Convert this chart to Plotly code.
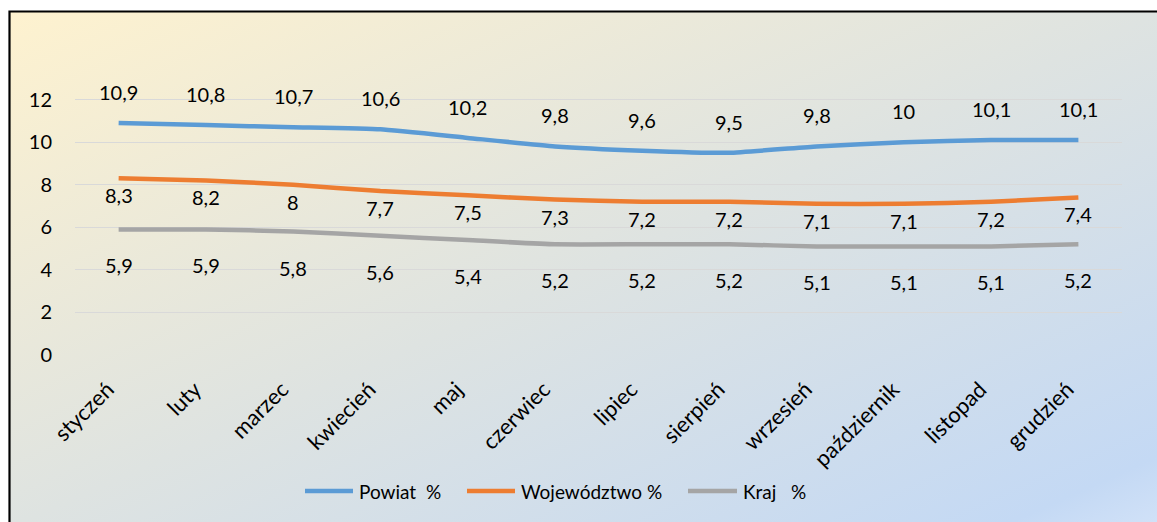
import base64
import plotly.graph_objects as go

months = ["styczeń", "luty", "marzec", "kwiecień", "maj", "czerwiec", "lipiec",
          "sierpień", "wrzesień", "październik", "listopad", "grudzień"]
powiat = [10.9, 10.8, 10.7, 10.6, 10.2, 9.8, 9.6, 9.5, 9.8, 10, 10.1, 10.1]
wojewodztwo = [8.3, 8.2, 8, 7.7, 7.5, 7.3, 7.2, 7.2, 7.1, 7.1, 7.2, 7.4]
kraj = [5.9, 5.9, 5.8, 5.6, 5.4, 5.2, 5.2, 5.2, 5.1, 5.1, 5.1, 5.2]
y_ticks = [0, 2, 4, 6, 8, 10, 12]

series = [
    ("Powiat\u00a0\u00a0%", powiat, "#5B9BD5", 31),
    ("Województwo\u00a0%", wojewodztwo, "#ED7D31", -17),
    ("Kraj\u00a0\u00a0\u00a0%", kraj, "#A5A5A5", -36),
]

FONT = "Lato, 'Open Sans', sans-serif"

def fmt(v):
    return ("%g" % v).replace(".", ",")

# plot area geometry (pixels)
W, H = 1157, 522
ML, MR, MT, MB = 75, 35, 57, 167
PW = W - ML - MR
PH = H - MT - MB

def px_x(p):
    return (p - ML) / PW

def px_y(p):
    return (H - MB - p) / PH

fig = go.Figure()
annotations = []
shapes = []
legend_pos = [(305, 353, 357), (467, 515, 519), (688, 737, 741)]
for (name, vals, color, shift), (lx0, lx1, tx) in zip(series, legend_pos):
    fig.add_trace(go.Scatter(
        x=months, y=vals, name=name, mode="lines",
        line=dict(color=color, width=4.5, shape="spline", smoothing=0.4),
        hoverinfo="skip", showlegend=False,
    ))
    for m, v in zip(months, vals):
        annotations.append(dict(
            x=m, y=v, xref="x", yref="y", text=fmt(v), showarrow=False,
            yshift=shift, font=dict(family=FONT, size=20, color="#000000"),
        ))
    # legend entry
    shapes.append(dict(type="line", xref="paper", yref="paper",
                       x0=px_x(lx0), x1=px_x(lx1), y0=px_y(491), y1=px_y(491),
                       line=dict(color=color, width=4.5)))
    annotations.append(dict(x=px_x(tx), y=px_y(491), xref="paper", yref="paper",
                            xanchor="left", yanchor="middle", text=name, showarrow=False,
                            font=dict(family=FONT, size=19, color="#000000")))

svg = (
    '<svg xmlns="http://www.w3.org/2000/svg" width="400" height="200" preserveAspectRatio="none">'
    '<defs><linearGradient id="g" x1="0" y1="0" x2="1" y2="1">'
    '<stop offset="0" stop-color="#FEF2CF"/>'
    '<stop offset="0.5" stop-color="#DEE3E1"/>'
    '<stop offset="0.93" stop-color="#C4D9F4"/>'
    '<stop offset="1" stop-color="#D2E2F8"/>'
    '</linearGradient></defs>'
    '<rect width="400" height="200" fill="url(#g)"/></svg>'
)
src = "data:image/svg+xml;base64," + base64.b64encode(svg.encode()).decode()

bx0, by0 = 10, 12
fig.add_layout_image(dict(
    source=src, xref="paper", yref="paper",
    x=px_x(bx0), y=px_y(by0), sizex=(W - bx0 + 5) / PW, sizey=(H - by0 + 5) / PH,
    xanchor="left", yanchor="top", sizing="stretch", layer="below",
))

shapes.append(dict(type="rect", xref="paper", yref="paper",
                   x0=px_x(9.5), x1=px_x(W + 20), y0=px_y(H + 20), y1=px_y(11.5),
                   line=dict(color="#000000", width=2.2), fillcolor="rgba(0,0,0,0)",
                   layer="above"))

fig.update_layout(
    width=W, height=H,
    margin=dict(l=ML, r=MR, t=MT, b=MB, autoexpand=False),
    paper_bgcolor="#FFFFFF",
    plot_bgcolor="rgba(0,0,0,0)",
    font=dict(family=FONT, size=18, color="#000000"),
    annotations=annotations,
    shapes=shapes,
    showlegend=False,
    xaxis=dict(
        range=[-0.5, 11.5],
        tickangle=-45, showgrid=False, zeroline=False, showline=False,
        ticks="outside", ticklen=12, tickcolor="rgba(0,0,0,0)",
        ticklabelshift=-11,
        tickfont=dict(family=FONT, size=22, color="#000000"),
        fixedrange=True, automargin=False,
    ),
    yaxis=dict(
        range=[0, 14], tickvals=y_ticks, ticktext=[str(t) for t in y_ticks],
        showgrid=True, gridcolor="#D9D9D9", gridwidth=1.3, zeroline=False,
        showline=False, ticks="outside", ticklen=18, tickcolor="rgba(0,0,0,0)",
        tickfont=dict(family=FONT, size=20, color="#000000"),
        fixedrange=True, automargin=False,
    ),
)

fig.write_html(
    "out.html",
    config={"displayModeBar": False},
    post_script="document.body.style.margin='0';document.body.style.overflow='hidden';",
)
